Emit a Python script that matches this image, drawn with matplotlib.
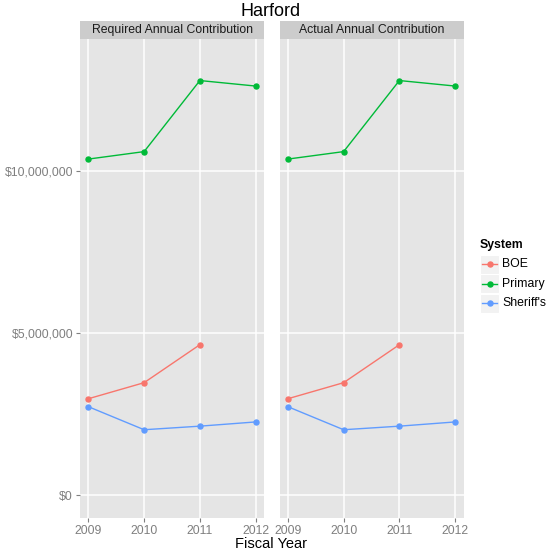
import matplotlib
matplotlib.use("Agg")
import matplotlib.pyplot as plt
from matplotlib.patches import Rectangle
from matplotlib.lines import Line2D
from matplotlib.ticker import FuncFormatter

plt.rcParams['font.family'] = ['Liberation Sans', 'DejaVu Sans']

# data
years = [2009, 2010, 2011, 2012]
boe_years = [2009, 2010, 2011]
boe = [2975000, 3470000, 4640000]
primary = [10360000, 10590000, 12780000, 12610000]
sheriffs = [2730000, 2020000, 2130000, 2260000]
panels = ["Required Annual Contribution", "Actual Annual Contribution"]
systems = ["BOE", "Primary", "Sheriff's"]
colors = ["#F8766D", "#00BA38", "#619CFF"]

W, H = 556, 557
fig = plt.figure(figsize=(W / 100, H / 100), dpi=100)

def fx(px):
    return px / W

def fy(py):
    return 1 - py / H

panel_left = [80, 279.5]
panel_w = 184
p_top, p_bot = 39, 518
strip_top = 21

def money(v, pos):
    return "${:,.0f}".format(v)

for i, name in enumerate(panels):
    ax = fig.add_axes([fx(panel_left[i]), fy(p_bot), panel_w / W, (p_bot - p_top) / H])
    ax.set_facecolor("#E5E5E5")
    for s in ax.spines.values():
        s.set_visible(False)
    ax.set_xlim(2008.85, 2012.15)
    ax.set_ylim(-700000, 14060000)
    ax.set_xticks(years)
    ax.set_yticks([0, 5000000, 10000000])
    ax.yaxis.set_major_formatter(FuncFormatter(money))
    ax.grid(which="major", color="white", lw=1.1)
    ax.set_axisbelow(True)
    ax.tick_params(which="major", length=3, width=0.8, color="#7F7F7F",
                   labelcolor="#7F7F7F", labelsize=8.8, pad=2)
    if i == 1:
        ax.tick_params(axis="y", which="major", length=0, labelleft=False)

    ax.plot(boe_years, boe, color=colors[0], lw=1, marker="o", ms=3.6, mec=colors[0])
    ax.plot(years, primary, color=colors[1], lw=1, marker="o", ms=3.6, mec=colors[1])
    ax.plot(years, sheriffs, color=colors[2], lw=1, marker="o", ms=3.6, mec=colors[2])

    # facet strip
    fig.add_artist(Rectangle((fx(panel_left[i]), fy(p_top)), panel_w / W,
                             (p_top - strip_top) / H, transform=fig.transFigure,
                             facecolor="#CCCCCC", edgecolor="none"))
    fig.text(fx(panel_left[i] + panel_w / 2), fy((p_top + strip_top) / 2), name,
             ha="center", va="center", fontsize=8.8, color="#1A1A1A")

fig.text(fx(271), fy(11), "Harford", ha="center", va="center", fontsize=13)
fig.text(fx(271), fy(544), "Fiscal Year", ha="center", va="center", fontsize=10.5)

# legend
fig.text(fx(480), fy(245), "System", ha="left", va="center", fontsize=8.8,
         fontweight="bold")
for k, (lab, col) in enumerate(zip(systems, colors)):
    cy = 264 + k * 19.5
    fig.add_artist(Rectangle((fx(480), fy(cy + 9.5)), 19 / W, 19 / H,
                             transform=fig.transFigure, facecolor="#F2F2F2",
                             edgecolor="white", lw=0.8))
    fig.add_artist(Line2D([fx(482), fx(497)], [fy(cy), fy(cy)], color=col, lw=1,
                          transform=fig.transFigure))
    fig.add_artist(Line2D([fx(489.5)], [fy(cy)], color=col, marker="o", ms=3.6,
                          transform=fig.transFigure))
    fig.text(fx(502), fy(cy), lab, ha="left", va="center", fontsize=8.8)

fig.savefig("out.png", dpi=100)
